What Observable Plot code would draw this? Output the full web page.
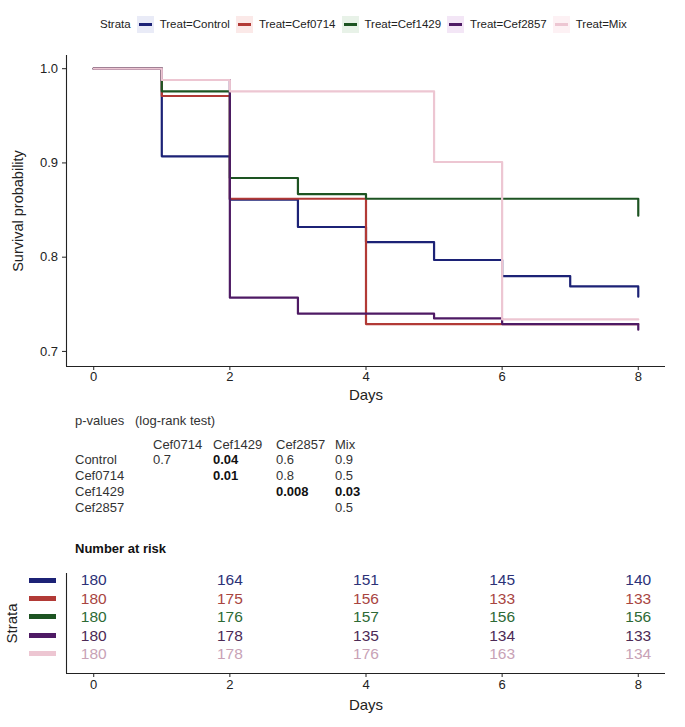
<!DOCTYPE html>
<html><head><meta charset="utf-8">
<script src="https://cdn.jsdelivr.net/npm/d3@7"></script>
<script src="https://cdn.jsdelivr.net/npm/@observablehq/plot@0.6"></script>
<style>
body{margin:0;background:#fff}
#root{position:relative;width:685px;height:727px;overflow:hidden;font-family:"Liberation Sans",Arial,sans-serif;color:#222}
.abs{position:absolute;white-space:nowrap;line-height:16px}
</style></head><body><div id="root"></div>
<script>
// ---------- data ----------
const strata = ["Treat=Control","Treat=Cef0714","Treat=Cef1429","Treat=Cef2857","Treat=Mix"];
const lineColors = ["#1c2276","#b23a36","#1d5422","#4e1a64","#edc6d2"];
const textColors = ["#2c3177","#a8453f","#2d6a35","#4c2a55","#c8a2b6"];
const tintColors = ["#e9ebf7","#fbe9e8","#e8f2e8","#f3e6f6","#fdf1f4"];

const days = [0,1,2,3,4,5,6,7,8];
const survControl = [1.0,0.907,0.861,0.832,0.816,0.797,0.780,0.769,0.758];
const survCef0714 = [1.0,0.971,0.862,0.862,0.729,0.729,0.729,0.729,0.729];
const survCef1429 = [1.0,0.976,0.884,0.867,0.862,0.862,0.862,0.862,0.844];
const survCef2857 = [1.0,0.988,0.757,0.740,0.740,0.735,0.729,0.729,0.723];
const survMix     = [1.0,0.988,0.976,0.976,0.976,0.901,0.734,0.734,0.734];

const xTicks = [0,2,4,6,8];
const yTicks = [0.7,0.8,0.9,1.0];

const riskDays = [0,2,4,6,8];
const riskControl = [180,164,151,145,140];
const riskCef0714 = [180,175,156,133,133];
const riskCef1429 = [180,176,157,156,156];
const riskCef2857 = [180,178,135,134,133];
const riskMix     = [180,178,176,163,134];

const pCols = ["Cef0714","Cef1429","Cef2857","Mix"];
const pRows = ["Control","Cef0714","Cef1429","Cef2857"];
const pControl = [0.7,0.04,0.6,0.9];
const pCef0714 = [null,0.01,0.8,0.5];
const pCef1429 = [null,null,0.008,0.03];
const pCef2857 = [null,null,null,0.5];

// ---------- build ----------
const root = document.getElementById("root");
const font = "'Liberation Sans',Arial,sans-serif";
function abs(html, left, top, style="") {
  const d = document.createElement("div");
  d.className = "abs";
  d.style.cssText += `left:${left}px;top:${top}px;${style}`;
  d.innerHTML = html;
  root.appendChild(d);
  return d;
}

// legend
const leg = document.createElement("div");
leg.style.cssText = "position:absolute;left:100px;top:16px;display:flex;align-items:center;gap:6px;font-size:11.5px;line-height:17px;color:#222;white-space:nowrap";
leg.innerHTML = `<span>Strata</span>` + strata.map((s,i)=>
  `<span style="display:inline-block;width:17px;height:17px;background:${tintColors[i]};position:relative"><span style="position:absolute;left:2px;right:2px;top:7px;height:3px;background:${lineColors[i]}"></span></span><span>${s}</span>`).join("");
root.appendChild(leg);

// main survival plot
const survSeries = [survControl,survCef0714,survCef1429,survCef2857,survMix];
const survRows = survSeries.flatMap((vals,i)=>days.map((d,k)=>({strata:strata[i], day:d, surv:vals[k]})));
const xDomain = [-0.4, 8.4];
const yDomain = [0.684, 1.014];

const main = Plot.plot({
  width:685, height:366, marginLeft:66, marginRight:20, marginTop:15, marginBottom:40,
  style:{fontFamily:font, fontSize:"13px", color:"#222", background:"transparent", overflow:"visible"},
  x:{domain:xDomain},
  y:{domain:yDomain},
  color:{domain:strata, range:lineColors},
  marks:[
    Plot.line(survRows,{x:"day", y:"surv", z:"strata", stroke:"strata", curve:"step-after", strokeWidth:2.2}),
    Plot.ruleX([xDomain[0]],{stroke:"#222", strokeWidth:1.1}),
    Plot.ruleY([yDomain[0]],{stroke:"#222", strokeWidth:1.1}),
    Plot.axisX(xTicks,{tickSize:4, tickPadding:1.5, label:null, stroke:"#222"}),
    Plot.axisX({ticks:[], label:"Days", labelAnchor:"center", labelArrow:false, fontSize:15, labelOffset:33}),
    Plot.axisY(yTicks,{tickSize:4, tickPadding:4.5, tickFormat:d3.format(".1f"), label:null, stroke:"#222"}),
    Plot.axisY({ticks:[], label:"Survival probability", labelAnchor:"center", labelArrow:false, fontSize:14.5, labelOffset:54})
  ]
});
const mainWrap = document.createElement("div");
mainWrap.style.cssText = "position:absolute;left:0;top:40px";
mainWrap.appendChild(main);
root.appendChild(mainWrap);

// p-values
const pFont = "font-size:13px;color:#333;";
abs("p-values", 75, 413, pFont);
abs("(log-rank test)", 135, 413, pFont);
const colX = [153, 213, 276, 335];
pCols.forEach((c,j)=>abs(c, colX[j], 437, pFont));
const pMatrix = [pControl,pCef0714,pCef1429,pCef2857];
pRows.forEach((r,i)=>{
  const top = 451.5 + i*16;
  abs(r, 75, top, pFont);
  pMatrix[i].forEach((v,j)=>{
    if (v == null) return;
    abs(String(v), colX[j], top, pFont + (v < 0.05 ? "font-weight:bold;color:#111;" : ""));
  });
});
abs("Number at risk", 75, 541, "font-size:13px;font-weight:bold;color:#111;");

// risk table
const riskSeries = [riskControl,riskCef0714,riskCef1429,riskCef2857,riskMix];
const riskRows = riskSeries.flatMap((vals,i)=>riskDays.map((d,k)=>({i, strata:strata[i], day:d, n:vals[k]})));
const riskYDomain = [-0.38, 5.03];
const risk = Plot.plot({
  width:685, height:167, marginLeft:66, marginRight:20, marginTop:13, marginBottom:54,
  style:{fontFamily:font, fontSize:"13px", color:"#222", background:"transparent", overflow:"visible"},
  x:{domain:xDomain},
  y:{domain:riskYDomain, reverse:true},
  color:{domain:strata, range:textColors},
  marks:[
    Plot.text(riskRows,{x:"day", y:"i", text:"n", fill:"strata", fontSize:15.5}),
    Plot.ruleX([xDomain[0]],{stroke:"#222", strokeWidth:1.1}),
    Plot.ruleY([riskYDomain[1]],{stroke:"#222", strokeWidth:1.1}),
    Plot.axisX(xTicks,{tickSize:4, tickPadding:2.5, label:null, stroke:"#222"}),
    Plot.axisX({ticks:[], label:"Days", labelAnchor:"center", labelArrow:false, fontSize:15, labelOffset:36}),
    Plot.axisY({ticks:[], label:"Strata", labelAnchor:"center", labelArrow:false, fontSize:15, labelOffset:60})
  ]
});
const riskWrap = document.createElement("div");
riskWrap.style.cssText = "position:absolute;left:0;top:560px";
riskWrap.appendChild(risk);
root.appendChild(riskWrap);

// strata swatches on the risk table's y axis
const ry = risk.scale("y");
strata.forEach((s,i)=>{
  const y = 560 + ry.apply(i);
  const d = document.createElement("div");
  d.style.cssText = `position:absolute;left:29px;width:27px;top:${y-2.5}px;height:5px;background:${lineColors[i]}`;
  root.appendChild(d);
});
</script></body></html>
